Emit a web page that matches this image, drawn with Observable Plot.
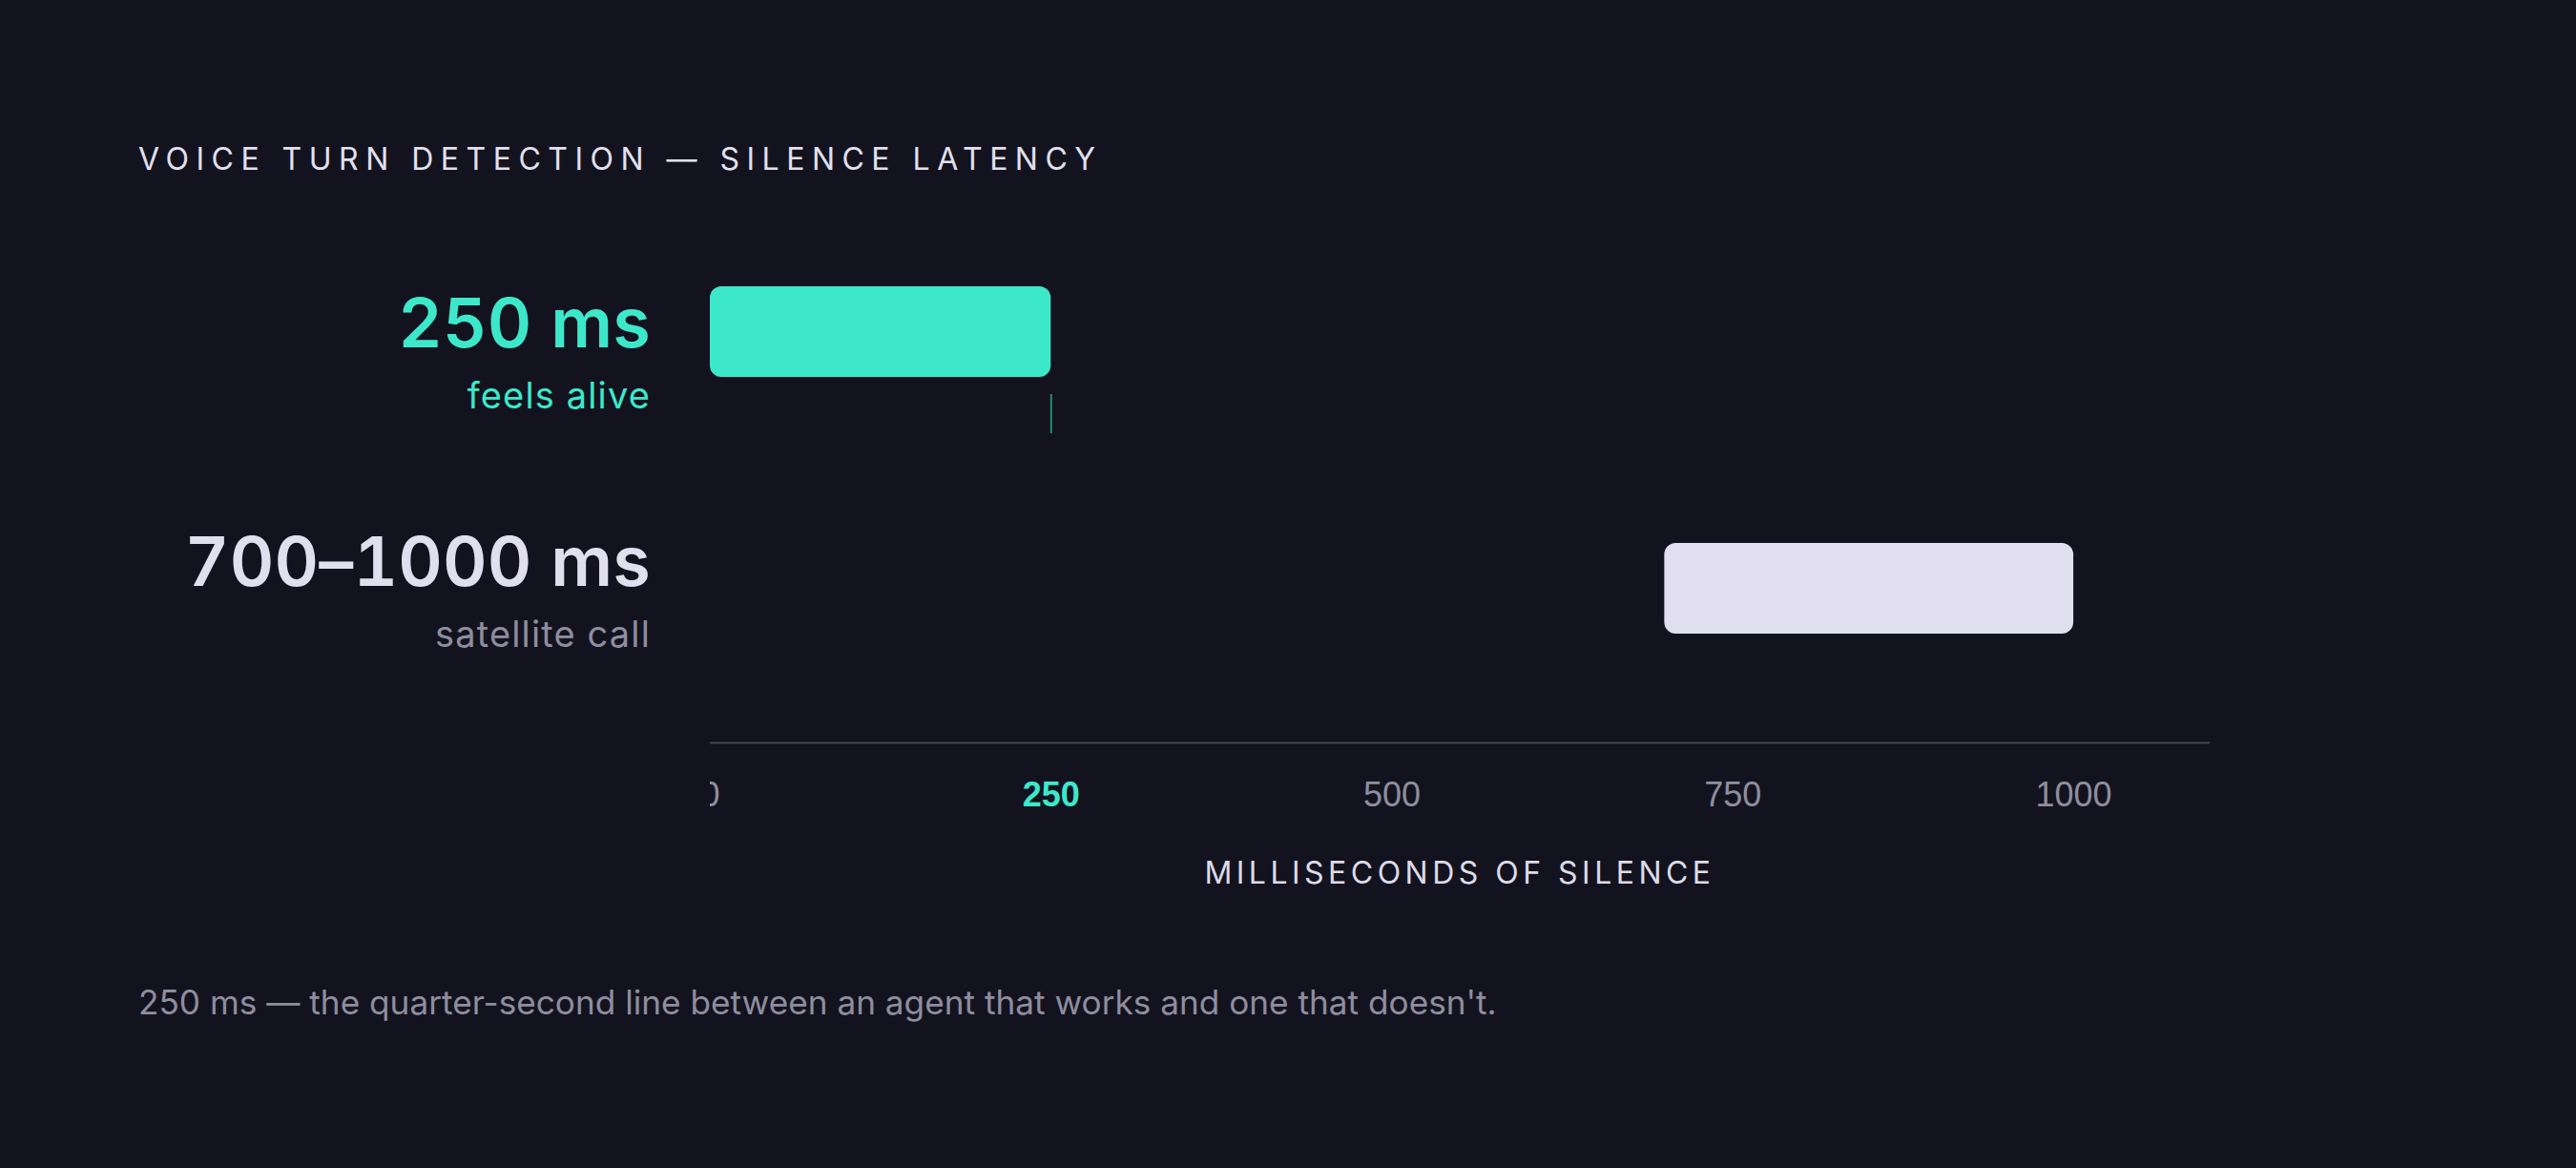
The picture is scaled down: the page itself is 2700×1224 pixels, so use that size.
<!DOCTYPE html>
<html>
<head>
<meta charset="utf-8">
<script src="https://cdn.jsdelivr.net/npm/d3@7"></script>
<script src="https://cdn.jsdelivr.net/npm/@observablehq/plot@0.6"></script>
<style>
  html, body { margin: 0; padding: 0; background: #13131f; }
  #root { position: relative; width: 2700px; height: 1224px; background: #13131f; overflow: hidden;
          font-family: Inter, "Noto Sans", sans-serif; }
  .abs { position: absolute; white-space: nowrap; }
  .title { left: 145px; top: 151px; font-size: 32px; line-height: 32px; letter-spacing: 0.234em; color: #e2e0ee; font-weight: 400; }
  .head { right: 2018px; font-size: 72px; line-height: 72px; font-weight: 600; text-align: right; letter-spacing: 0.003em;
          font-variant-numeric: tabular-nums; }
  .sub { right: 2018px; font-size: 38px; line-height: 38px; font-weight: 400; text-align: right; letter-spacing: 0.03em; }
  .axislabel { left: 744px; width: 1572px; text-align: center; top: 899px; font-size: 32px; line-height: 32px;
               letter-spacing: 0.14em; color: #dddbe9; }
  .caption { left: 145px; top: 1033px; font-size: 35.2px; line-height: 35px; color: #8f8d9e; }
  #chart { position: absolute; left: 744px; top: 185px; }
  #chart svg { overflow: hidden; display: block; }
</style>
</head>
<body>
<div id="root">
  <div class="abs title">VOICE TURN DETECTION — SILENCE LATENCY</div>
  <div id="labels"></div>
  <div id="chart"></div>
  <div class="abs axislabel">MILLISECONDS OF SILENCE</div>
  <div class="abs caption">250 ms — the quarter-second line between an agent that works and one that doesn't.</div>
</div>
<script>
// ---- data ----
const categories = ["feels alive", "satellite call"];
const headlines = ["250 ms", "700–1000 ms"];
const rangeStart = [0, 700];
const rangeEnd = [250, 1000];
const threshold = [250];
const tickValues = [0, 250, 500, 750, 1000];
const xDomain = [0, 1100];

// ---- style ----
const TEAL = "#3de8ca";
const LAVENDER = "#e1dfef";
const GREY = "#8f8d9e";
const headColors = [TEAL, LAVENDER];
const subColors = [TEAL, GREY];
const headTops = [302, 552];
const subTops = [395, 645];

const rows = categories.map((c, i) => ({category: c, start: rangeStart[i], end: rangeEnd[i]}));

const plot = Plot.plot({
  width: 1572,
  height: 683,
  marginLeft: 0,
  marginRight: 0,
  marginTop: 0,
  marginBottom: 90,
  style: {background: "transparent", overflow: "hidden"},
  x: {domain: xDomain, axis: null},
  y: {domain: categories, axis: null, paddingInner: 0.647, paddingOuter: 0.4257},
  color: {domain: categories, range: [TEAL, LAVENDER]},
  marks: [
    Plot.frame({anchor: "bottom", stroke: "#46454f", strokeWidth: 2}),
    Plot.barX(rows, {x1: "start", x2: "end", y: "category", fill: "category", rx: 12, ry: 12}),
    Plot.ruleX(threshold, {x: d => d, stroke: TEAL, strokeOpacity: 0.55, strokeWidth: 2, insetTop: 228, insetBottom: 324}),
    Plot.text(tickValues.filter(v => !threshold.includes(v)), {
      x: d => d, text: d => String(d), frameAnchor: "bottom", lineAnchor: "middle", dy: 55,
      fill: GREY, fontSize: 36, fontFamily: "Liberation Sans, Arial, sans-serif"
    }),
    Plot.text(threshold, {
      x: d => d, text: d => String(d), frameAnchor: "bottom", lineAnchor: "middle", dy: 55,
      fill: TEAL, fontSize: 36, fontWeight: "bold", fontFamily: "Liberation Sans, Arial, sans-serif"
    })
  ]
});
document.getElementById("chart").appendChild(plot);

const labels = document.getElementById("labels");
categories.forEach((c, i) => {
  const h = document.createElement("div");
  h.className = "abs head";
  h.style.top = headTops[i] + "px";
  h.style.color = headColors[i];
  h.textContent = headlines[i];
  labels.appendChild(h);
  const s = document.createElement("div");
  s.className = "abs sub";
  s.style.top = subTops[i] + "px";
  s.style.color = subColors[i];
  s.textContent = c;
  labels.appendChild(s);
});
</script>
</body>
</html>
